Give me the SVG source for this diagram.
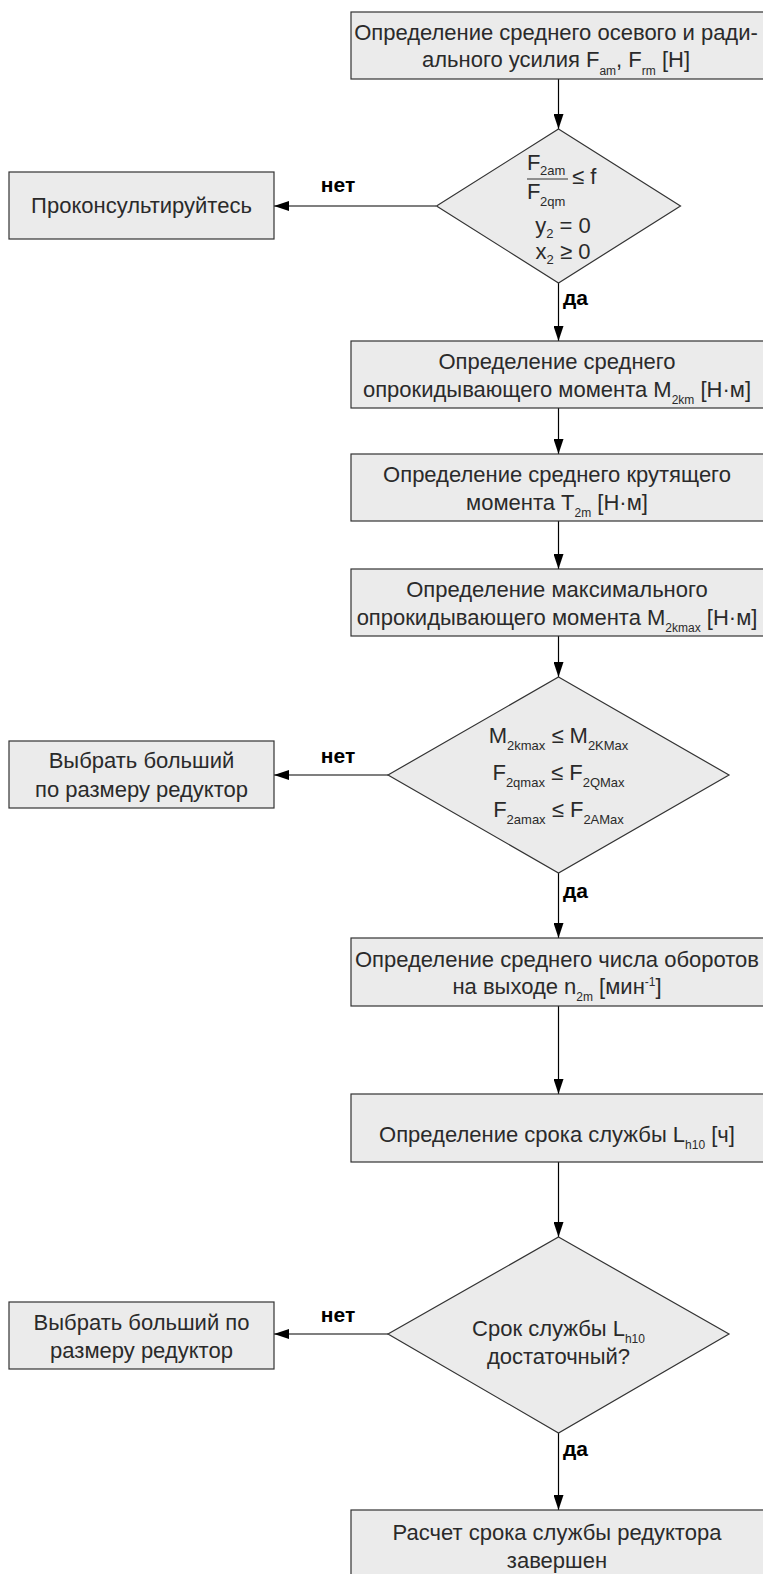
<svg xmlns="http://www.w3.org/2000/svg" width="763" height="1574" viewBox="0 0 763 1574">
<defs>
<marker id="ah" markerUnits="userSpaceOnUse" markerWidth="15" markerHeight="10" refX="15" refY="5" orient="auto">
<path d="M0,0 L15,5 L0,10 z" fill="#000"/>
</marker>
</defs>
<style>
.box{fill:#ebebeb;stroke:#333;stroke-width:1.2}
.t{font-family:"Liberation Sans",Arial,sans-serif;font-size:22px;fill:#2a2a2a}
.m{text-anchor:middle}
.s{font-size:12px}
.s2{font-size:13px}
.lbl{font-family:"Liberation Sans",Arial,sans-serif;font-size:21px;font-weight:bold;fill:#000}
.c{fill:none;stroke:#000;stroke-width:1.2;marker-end:url(#ah)}
.bar{stroke:#333;stroke-width:1}
</style>
<g id="connectors">
<line class="c" x1="558.5" y1="79" x2="558.5" y2="129"/>
<line class="c" x1="436" y1="206" x2="274" y2="206"/>
<line class="c" x1="558.5" y1="283" x2="558.5" y2="341"/>
<line class="c" x1="558.5" y1="408" x2="558.5" y2="454"/>
<line class="c" x1="558.5" y1="521" x2="558.5" y2="569"/>
<line class="c" x1="558.5" y1="636" x2="558.5" y2="677"/>
<line class="c" x1="388" y1="775" x2="274" y2="775"/>
<line class="c" x1="558.5" y1="873" x2="558.5" y2="938"/>
<line class="c" x1="558.5" y1="1006" x2="558.5" y2="1094"/>
<line class="c" x1="558.5" y1="1162" x2="558.5" y2="1237"/>
<line class="c" x1="388" y1="1334" x2="274" y2="1334"/>
<line class="c" x1="558.5" y1="1433" x2="558.5" y2="1510"/>
<text class="lbl m" x="338" y="192">нет</text>
<text class="lbl" x="563" y="305">да</text>
<text class="lbl m" x="338" y="763">нет</text>
<text class="lbl" x="563" y="898">да</text>
<text class="lbl m" x="338" y="1322">нет</text>
<text class="lbl" x="563" y="1456">да</text>
</g>
<g id="n1">
<rect class="box" x="351" y="12" width="420" height="67"/>
<text class="t m" x="556" y="40">Определение среднего осевого и ради-</text>
<text class="t m" x="556" y="67">ального усилия F<tspan class="s" dy="8">am</tspan><tspan dy="-8">, F</tspan><tspan class="s" dy="8">rm</tspan><tspan dy="-8"> [Н]</tspan></text>
</g>
<g id="d1">
<polygon class="box" points="558.5,129 680.5,206 558.5,283 436.5,206"/>
<text class="t" x="527" y="170">F</text>
<text class="t s2" x="540" y="175">2am</text>
<line class="bar" x1="527" y1="179" x2="568" y2="179"/>
<text class="t" x="572" y="184">≤ f</text>
<text class="t" x="527" y="199">F</text>
<text class="t s2" x="540" y="206">2qm</text>
<text class="t m" x="563" y="233">y<tspan class="s2" dy="5">2</tspan><tspan dy="-5"> = 0</tspan></text>
<text class="t m" x="563" y="259">x<tspan class="s2" dy="5">2</tspan><tspan dy="-5"> ≥ 0</tspan></text>
</g>
<g id="n2">
<rect class="box" x="9" y="172" width="265" height="67"/>
<text class="t m" x="141.5" y="213">Проконсультируйтесь</text>
</g>
<g id="n3">
<rect class="box" x="351" y="341" width="420" height="67"/>
<text class="t m" x="557" y="369">Определение среднего</text>
<text class="t m" x="557" y="397">опрокидывающего момента M<tspan class="s" dy="7">2km</tspan><tspan dy="-7"> [Н·м]</tspan></text>
</g>
<g id="n4">
<rect class="box" x="351" y="454" width="420" height="67"/>
<text class="t m" x="557" y="482">Определение среднего крутящего</text>
<text class="t m" x="557" y="510">момента T<tspan class="s" dy="7">2m</tspan><tspan dy="-7"> [Н·м]</tspan></text>
</g>
<g id="n5">
<rect class="box" x="351" y="569" width="420" height="67"/>
<text class="t m" x="557" y="597">Определение максимального</text>
<text class="t m" x="557" y="625">опрокидывающего момента M<tspan class="s" dy="7">2kmax</tspan><tspan dy="-7"> [Н·м]</tspan></text>
</g>
<g id="d2">
<polygon class="box" points="558.5,677 729,775 558.5,873 388,775"/>
<text class="t m" x="558.5" y="743">M<tspan class="s2" dy="7">2kmax</tspan><tspan dy="-7"> ≤ M</tspan><tspan class="s2" dy="7">2KMax</tspan></text>
<text class="t m" x="558.5" y="780">F<tspan class="s2" dy="7">2qmax</tspan><tspan dy="-7"> ≤ F</tspan><tspan class="s2" dy="7">2QMax</tspan></text>
<text class="t m" x="558.5" y="817">F<tspan class="s2" dy="7">2amax</tspan><tspan dy="-7"> ≤ F</tspan><tspan class="s2" dy="7">2AMax</tspan></text>
</g>
<g id="n6">
<rect class="box" x="9" y="741" width="265" height="67"/>
<text class="t m" x="141.5" y="768">Выбрать больший</text>
<text class="t m" x="141.5" y="797">по размеру редуктор</text>
</g>
<g id="n7">
<rect class="box" x="351" y="938" width="420" height="68"/>
<text class="t m" x="557" y="967">Определение среднего числа оборотов</text>
<text class="t m" x="557" y="994">на выходе n<tspan class="s" dy="7">2m</tspan><tspan dy="-7"> [мин</tspan><tspan class="s" dy="-8">-1</tspan><tspan dy="8">]</tspan></text>
</g>
<g id="n8">
<rect class="box" x="351" y="1094" width="420" height="68"/>
<text class="t m" x="557" y="1142">Определение срока службы L<tspan class="s" dy="7">h10</tspan><tspan dy="-7"> [ч]</tspan></text>
</g>
<g id="d3">
<polygon class="box" points="558.5,1237 729,1334 558.5,1433 388,1334"/>
<text class="t m" x="558.5" y="1336">Срок службы L<tspan class="s" dy="7">h10</tspan></text>
<text class="t m" x="558.5" y="1364">достаточный?</text>
</g>
<g id="n9">
<rect class="box" x="9" y="1302" width="265" height="67"/>
<text class="t m" x="141.5" y="1330">Выбрать больший по</text>
<text class="t m" x="141.5" y="1358">размеру редуктор</text>
</g>
<g id="n10">
<rect class="box" x="351" y="1510" width="420" height="70"/>
<text class="t m" x="557" y="1540">Расчет срока службы редуктора</text>
<text class="t m" x="557" y="1568">завершен</text>
</g>
</svg>
